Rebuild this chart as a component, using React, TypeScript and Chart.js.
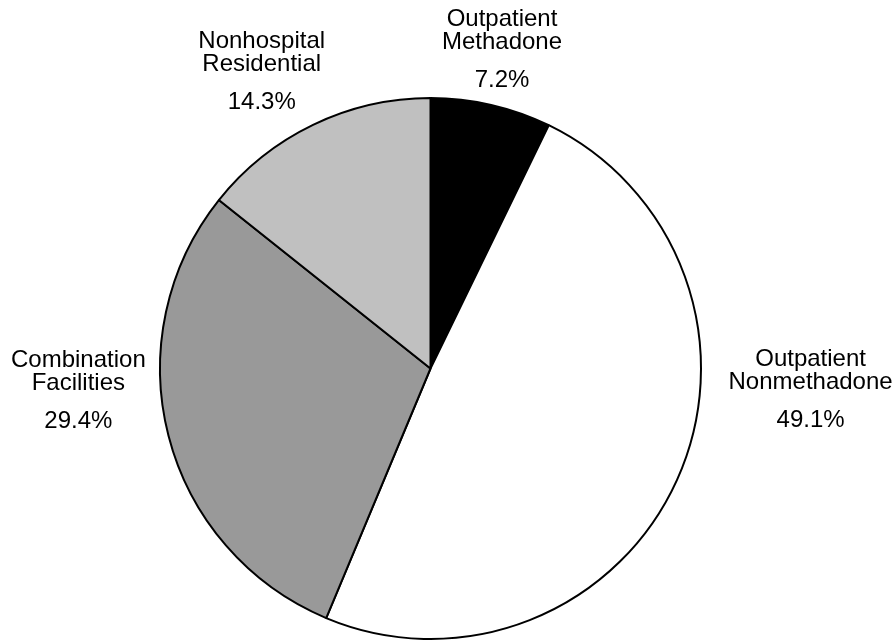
import React, { useEffect, useRef } from "react";
import { Chart, registerables } from "chart.js";

Chart.register(...registerables);

// Facility types, in clockwise order starting at 12 o'clock
const categories: string[][] = [
  ["Outpatient", "Methadone"],
  ["Outpatient", "Nonmethadone"],
  ["Combination", "Facilities"],
  ["Nonhospital", "Residential"],
];
const shares: number[] = [7.2, 49.1, 29.4, 14.3];
const sliceColors: string[] = ["#000000", "#ffffff", "#999999", "#c0c0c0"];

// Where each label block sits: angle (deg, clockwise from top) and distance
// from the pie centre as a multiple of the radius (first text line baseline).
const labelAngles: number[] = [11.8, 89.6, 270.2, 332.2];
const labelDistances: number[] = [1.288, 1.4, 1.297, 1.333];

const FONT = '24px "Liberation Sans", Arial, sans-serif';
const LINE_GAP = 23;
const PCT_GAP = 38;

const outsideLabels = {
  id: "outsideLabels",
  afterDatasetsDraw(chart: Chart) {
    const { ctx } = chart;
    const meta = chart.getDatasetMeta(0);
    const values = chart.data.datasets[0].data as number[];
    ctx.save();
    ctx.font = FONT;
    ctx.fillStyle = "#000";
    ctx.textAlign = "center";
    ctx.textBaseline = "alphabetic";
    meta.data.forEach((el: any, i: number) => {
      const { x, y, outerRadius } = el.getProps(["x", "y", "outerRadius"], true);
      const r = outerRadius + 1;
      const a = (labelAngles[i] * Math.PI) / 180;
      const d = r * labelDistances[i];
      const lx = x + d * Math.sin(a);
      const ly = y - d * Math.cos(a);
      const lines = categories[i];
      lines.forEach((t, k) => ctx.fillText(t, lx, ly + k * LINE_GAP));
      ctx.fillText(
        values[i].toFixed(1) + "%",
        lx,
        ly + (lines.length - 1) * LINE_GAP + PCT_GAP
      );
    });
    ctx.restore();
  },
};

export default function App() {
  const ref = useRef<HTMLCanvasElement | null>(null);

  useEffect(() => {
    if (!ref.current) return;
    const chart = new Chart(ref.current, {
      type: "pie",
      data: {
        labels: categories.map((c) => c.join(" ")),
        datasets: [
          {
            data: shares,
            backgroundColor: sliceColors,
            borderColor: "#000000",
            borderWidth: 2,
          },
        ],
      },
      options: {
        responsive: false,
        animation: false,
        devicePixelRatio: 1,
        layout: { padding: { top: 97, bottom: 3, left: 0, right: 35 } },
        plugins: {
          legend: { display: false },
          tooltip: { enabled: false },
        },
      },
      plugins: [outsideLabels],
    });
    return () => chart.destroy();
  }, []);

  return (
    <div
      style={{
        position: "absolute",
        left: 0,
        top: 0,
        width: 896,
        height: 643,
        background: "#ffffff",
      }}
    >
      <canvas ref={ref} width={896} height={643} />
    </div>
  );
}
